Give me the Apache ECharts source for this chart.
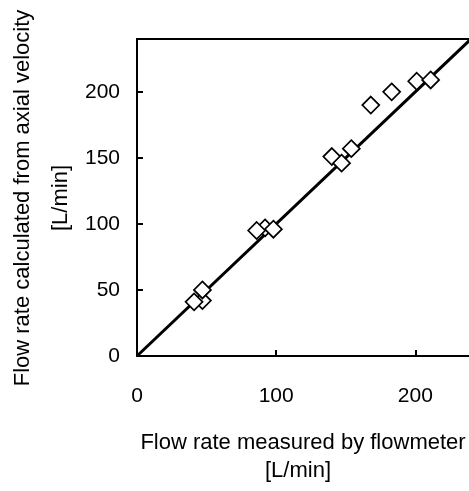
<!DOCTYPE html>
<html>
<head>
<meta charset="utf-8">
<script src="https://cdn.jsdelivr.net/npm/echarts@6/dist/echarts.min.js"></script>
<style>
html,body{margin:0;padding:0;background:#fff;}
#chart{width:469px;height:491px;}
</style>
</head>
<body>
<div id="chart"></div>
<script>
// Flow rate measured by flowmeter [L/min]
var measured = [47, 41, 47, 92, 86, 98, 140, 147, 154, 168, 183, 201, 211];
// Flow rate calculated from axial velocity [L/min]
var calculated = [42, 41, 50, 97, 95, 96, 151, 146, 157, 190, 200, 208, 209];
// y = x reference line end points
var lineX = [0, 240];
var lineY = [0, 240];
var xTicks = [0, 100, 200];
var yTicks = [0, 50, 100, 150, 200];

var FONT = 'Liberation Sans, Arial, sans-serif';
var chart = echarts.init(document.getElementById('chart'));
var pts = measured.map(function (v, i) { return [v, calculated[i]]; });
var linePts = lineX.map(function (v, i) { return [v, lineY[i]]; });

chart.setOption({
  animation: false,
  backgroundColor: '#fff',
  grid: {left: 137, top: 39, width: 334, height: 317, outerBoundsMode: 'none', containLabel: false,
    show: true, borderColor: '#000', borderWidth: 2, backgroundColor: 'transparent'},
  xAxis: {
    type: 'value', min: 0, max: 240, interval: 100,
    axisLine: {show: true, onZero: false, lineStyle: {color: '#000', width: 2}},
    axisTick: {show: true, inside: true, length: 6, lineStyle: {color: '#000', width: 2}},
    axisLabel: {color: '#000', fontSize: 21, fontFamily: FONT, margin: 30,
      formatter: function (v) { return xTicks.indexOf(v) >= 0 ? String(v) : ''; }},
    splitLine: {show: false}
  },
  yAxis: {
    type: 'value', min: 0, max: 240, interval: 50,
    axisLine: {show: true, onZero: false, lineStyle: {color: '#000', width: 2}},
    axisTick: {show: true, inside: true, length: 6, lineStyle: {color: '#000', width: 2}},
    axisLabel: {color: '#000', fontSize: 21, fontFamily: FONT, margin: 17,
      formatter: function (v) { return yTicks.indexOf(v) >= 0 ? String(v) : ''; }},
    splitLine: {show: false}
  },
  series: [
    {type: 'line', data: linePts, symbol: 'none', lineStyle: {color: '#000', width: 3}, z: 2, silent: true},
    {type: 'scatter', data: pts, symbol: 'diamond', symbolSize: 17,
      itemStyle: {color: '#fff', borderColor: '#000', borderWidth: 1.7, opacity: 1}, z: 3}
  ],
  graphic: [
    {type: 'text', x: 23, y: 198, rotation: Math.PI / 2,
      style: {text: 'Flow rate calculated from axial velocity', font: '22px ' + FONT, fill: '#000', textAlign: 'center', textVerticalAlign: 'middle'}},
    {type: 'text', x: 61, y: 198, rotation: Math.PI / 2,
      style: {text: '[L/min]', font: '22px ' + FONT, fill: '#000', textAlign: 'center', textVerticalAlign: 'middle'}},
    {type: 'text', x: 303, y: 443,
      style: {text: 'Flow rate measured by flowmeter', font: '22px ' + FONT, fill: '#000', textAlign: 'center', textVerticalAlign: 'middle'}},
    {type: 'text', x: 298, y: 471,
      style: {text: '[L/min]', font: '22px ' + FONT, fill: '#000', textAlign: 'center', textVerticalAlign: 'middle'}}
  ]
});
</script>
</body>
</html>
